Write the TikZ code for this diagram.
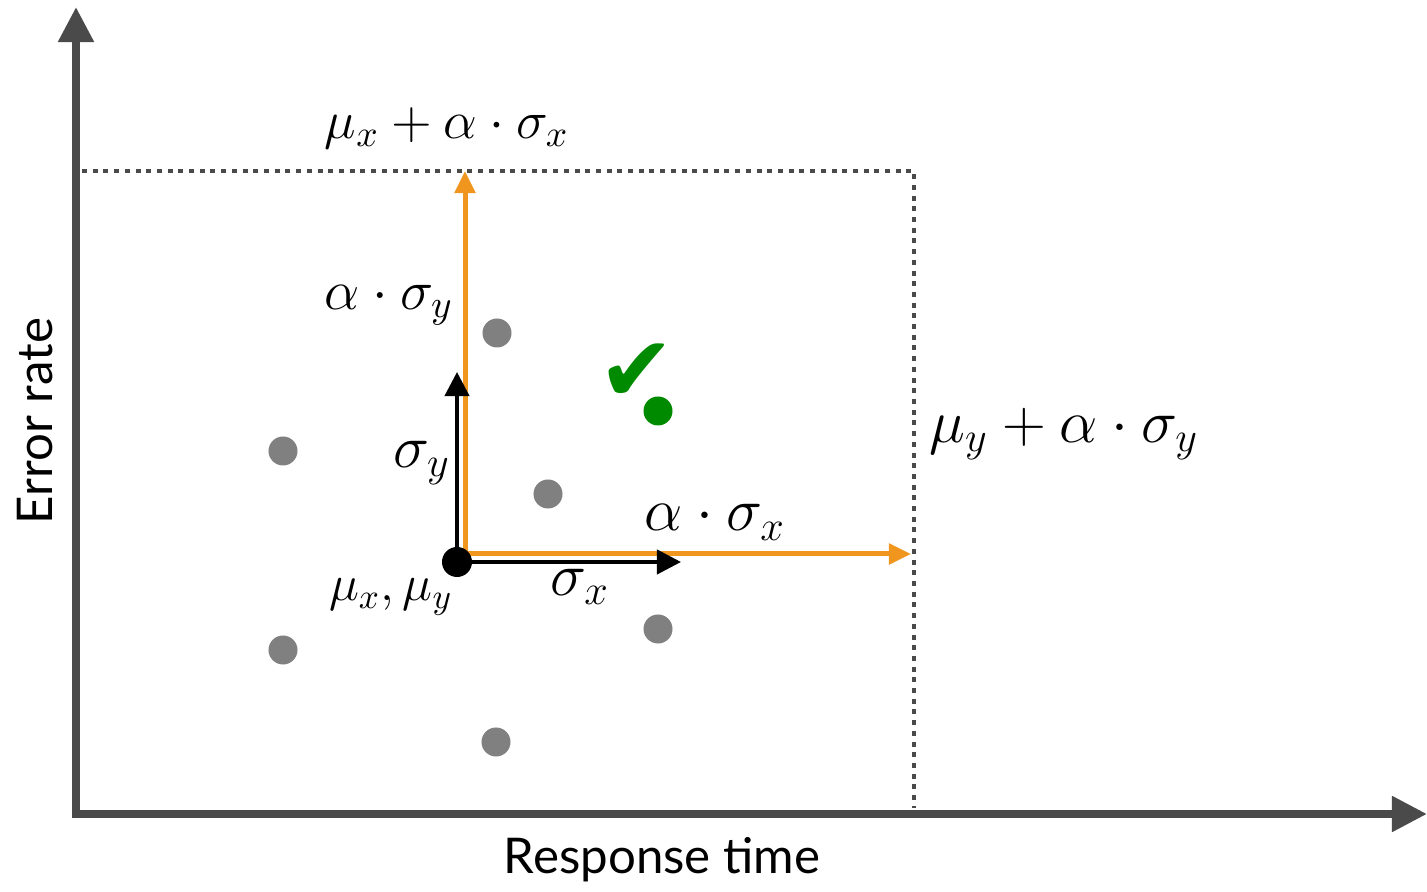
\RequirePackage{fix-cm}
\documentclass[tikz,border=0pt]{standalone}
\usepackage{fontspec}
\setmainfont{Lato}
\newfontfamily\symbolfont{DejaVu Sans}
\usetikzlibrary{arrows.meta}
\definecolor{axisgray}{HTML}{4A4A4A}
\definecolor{dotgray}{HTML}{808080}
\definecolor{sdorange}{HTML}{F0961E}
\definecolor{okgreen}{HTML}{008A00}
\tikzset{
  axis/.style={draw=axisgray, line width=0.08cm, line cap=rect, -{Triangle[length=0.35cm,width=0.34cm]}},
  bound/.style={draw=axisgray, line width=0.045cm, dash pattern=on 0.05cm off 0.057cm},
  sdarrow/.style={draw=black, line width=0.04cm, -{Triangle[length=0.24cm,width=0.24cm]}},
  alphaarrow/.style={draw=sdorange, line width=0.05cm, -{Triangle[length=0.22cm,width=0.2cm]}},
  sample/.style={circle, fill=dotgray, minimum size=0.29cm, inner sep=0pt},
  lbl/.style={inner sep=0pt, font=\fontsize{17.28}{20}\selectfont},
  axislabel/.style={inner sep=0pt, font=\fontsize{14}{17}\selectfont}
}
\begin{document}
\begin{tikzpicture}[x=0.01cm, y=-0.01cm]
\useasboundingbox (0,0) rectangle (1427,892);
% axes
\coordinate (origin) at (76,814);
\coordinate (ytop) at (76,7);
\coordinate (xend) at (1427,814);
\draw[axis] (origin) -- (ytop);
\draw[axis] (origin) -- (xend);
\node[axislabel, rotate=90] (ylabel) at (35,421) {Error rate};
\node[axislabel] (xlabel) at (662,860) {Response time};
% bounds
\coordinate (bx0) at (82,171);
\coordinate (bc) at (914,171);
\coordinate (by0) at (914,808);
\draw[bound] (bx0) -- (bc) -- (by0);
% samples
\node[sample] (p1) at (497,333) {};
\node[sample] (p2) at (283,451) {};
\node[sample] (p3) at (548,494) {};
\node[sample] (p4) at (658,629) {};
\node[sample] (p5) at (283,650) {};
\node[sample] (p6) at (496,742) {};
\node[sample, fill=okgreen] (good) at (658,411) {};
\node[text=okgreen, inner sep=0pt, font=\symbolfont\fontsize{26}{26}\selectfont] (tick) at (637,373) {✔};
% alpha * sigma
\coordinate (a0) at (465,554);
\coordinate (ay) at (465,171);
\coordinate (ax) at (911,554);
\draw[alphaarrow] (a0) -- (ay);
\draw[alphaarrow] (a0) -- (ax);
% sigma
\coordinate (m0) at (457,562);
\coordinate (sy) at (457,372);
\coordinate (sx) at (681,562);
\draw[sdarrow] (m0) -- (sy);
\draw[sdarrow] (m0) -- (sx);
\node[circle, fill=black, minimum size=0.3cm, inner sep=0pt] (mean) at (m0) {};
% labels
\node[lbl, font=\fontsize{15.2}{18}\selectfont] (lxmax) at (447,128) {$\mu_x + \alpha \cdot \sigma_x$};
\node[lbl, font=\fontsize{15.9}{18}\selectfont] (lay) at (389,305) {$\alpha \cdot \sigma_y$};
\node[lbl] (lsy) at (422,463) {$\sigma_y$};
\node[lbl, font=\fontsize{14.4}{17}\selectfont] (lmean) at (391,597) {$\mu_x, \mu_y$};
\node[lbl] (lsx) at (580,587) {$\sigma_x$};
\node[lbl] (lax) at (715,522) {$\alpha \cdot \sigma_x$};
\node[lbl] (lymax) at (1064,434) {$\mu_y + \alpha \cdot \sigma_y$};
\end{tikzpicture}
\end{document}
